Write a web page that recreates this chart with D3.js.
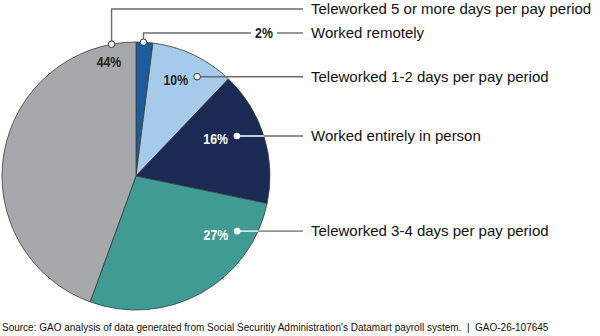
<!DOCTYPE html>
<html>
<head>
<meta charset="utf-8">
<script src="https://cdn.jsdelivr.net/npm/d3@7"></script>
<style>
  html, body { margin: 0; padding: 0; background: #fff; }
  svg { display: block; }
</style>
</head>
<body>
<svg id="chart" width="600" height="336"></svg>
<script>
// Share of employees by work arrangement (percent), clockwise from 12 o'clock
const categories = [
  "Worked remotely",
  "Teleworked 1-2 days per pay period",
  "Worked entirely in person",
  "Teleworked 3-4 days per pay period",
  "Teleworked 5 or more days per pay period"
];
const values = [2, 10, 16, 27, 44];
const sliceColors = ["#1d5c9b", "#a6cbea", "#1b2a54", "#3f9b93", "#a7a8ab"];

// Callout layout per slice: dot position (angle in degrees clockwise from top,
// radius as a fraction of the pie radius), leader row y, percent label placement
const callouts = [
  { angle: 3.2,   r: 1.0,  rowY: 33,  pct: "onLine", pctX: 264, pctColor: "#222" },
  { angle: 31.6,  r: 0.87, rowY: 77,  pct: "left",   pctColor: "#222" },
  { angle: 68.4,  r: 0.81, rowY: 136, pct: "left",   pctColor: "#fff" },
  { angle: 118.6, r: 0.86, rowY: 231, pct: "left",   pctColor: "#fff" },
  { angle: -10.5, r: 1.0,  rowY: 9,   pct: "below",  pctX: 109, pctY: 62, pctColor: "#222" }
];

const svg = d3.select("#chart");
const cx = 136, cy = 176, radius = 134;
const labelX = 311, lineEndX = 303;

const pie = d3.pie().sort(null).value(d => d)(values);
const arc = d3.arc().innerRadius(0).outerRadius(radius);

const g = svg.append("g").attr("transform", `translate(${cx},${cy})`);

g.selectAll("path.slice")
  .data(pie)
  .join("path")
  .attr("class", "slice")
  .attr("d", arc)
  .attr("fill", (d, i) => sliceColors[i])
  .attr("stroke", "#3a3a3a")
  .attr("stroke-width", 0.8)
  .attr("stroke-linejoin", "round");

const pctFont = "'Liberation Sans', Arial, sans-serif";
const lineColor = "#6b6b6b";

function dotPos(c) {
  const a = c.angle * Math.PI / 180;
  return [cx + Math.sin(a) * radius * c.r, cy - Math.cos(a) * radius * c.r];
}

const layer = svg.append("g");

callouts.forEach((c, i) => {
  const [dx, dy] = dotPos(c);
  const pctText = values[i] + "%";

  // leader line
  if (c.r >= 1.0) {
    if (c.pct === "onLine") {
      layer.append("path")
        .attr("d", `M${dx},${dy} V${c.rowY} H${c.pctX - 13}`)
        .attr("fill", "none").attr("stroke", lineColor).attr("stroke-width", 1.4);
      layer.append("path")
        .attr("d", `M${c.pctX + 13},${c.rowY} H${lineEndX}`)
        .attr("fill", "none").attr("stroke", lineColor).attr("stroke-width", 1.4);
    } else {
      layer.append("path")
        .attr("d", `M${dx},${dy} V${c.rowY} H${lineEndX}`)
        .attr("fill", "none").attr("stroke", lineColor).attr("stroke-width", 1.4);
    }
  } else {
    layer.append("path")
      .attr("d", `M${dx},${dy} H${lineEndX}`)
      .attr("fill", "none").attr("stroke", c.pctColor === "#fff" ? "#ffffff" : lineColor)
      .attr("stroke-width", 1.4);
    if (c.pctColor === "#fff") {
      // line continues outside the pie in gray
      const edgeX = cx + Math.sqrt(radius * radius - (dy - cy) * (dy - cy));
      layer.append("path")
        .attr("d", `M${edgeX},${dy} H${lineEndX}`)
        .attr("fill", "none").attr("stroke", lineColor).attr("stroke-width", 1.4);
    }
  }

  // dot
  layer.append("circle")
    .attr("cx", dx).attr("cy", dy).attr("r", 3.3)
    .attr("fill", "#fff")
    .attr("stroke", c.pctColor === "#fff" ? "none" : "#333")
    .attr("stroke-width", 1);

  // percent label (condensed bold)
  let tx, ty, anchor;
  if (c.pct === "onLine") { tx = c.pctX; ty = c.rowY; anchor = "middle"; }
  else if (c.pct === "below") { tx = c.pctX; ty = c.pctY; anchor = "middle"; }
  else { tx = dx - 9; ty = dy + 3; anchor = "end"; }
  layer.append("text")
    .attr("transform", `translate(${tx},${ty}) scale(0.82,1)`)
    .attr("dy", "0.36em")
    .attr("text-anchor", anchor)
    .attr("font-family", pctFont)
    .attr("font-weight", "bold")
    .attr("font-size", 15)
    .attr("fill", c.pctColor)
    .text(pctText);

  // category label
  layer.append("text")
    .attr("x", labelX).attr("y", c.rowY)
    .attr("dy", "0.36em")
    .attr("font-family", "'Liberation Sans', Arial, sans-serif")
    .attr("font-size", 15)
    .attr("fill", "#111")
    .text(categories[i]);
});

svg.append("text")
  .attr("transform", "translate(2,331) scale(1.0,1)")
  .attr("font-family", "'Liberation Sans', Arial, sans-serif")
  .attr("font-size", 10)
  .attr("fill", "#111")
  .style("white-space", "pre")
  .text("Source: GAO analysis of data generated from Social Securitiy Administration's Datamart payroll system.  |  GAO-26-107645");
</script>
</body>
</html>
